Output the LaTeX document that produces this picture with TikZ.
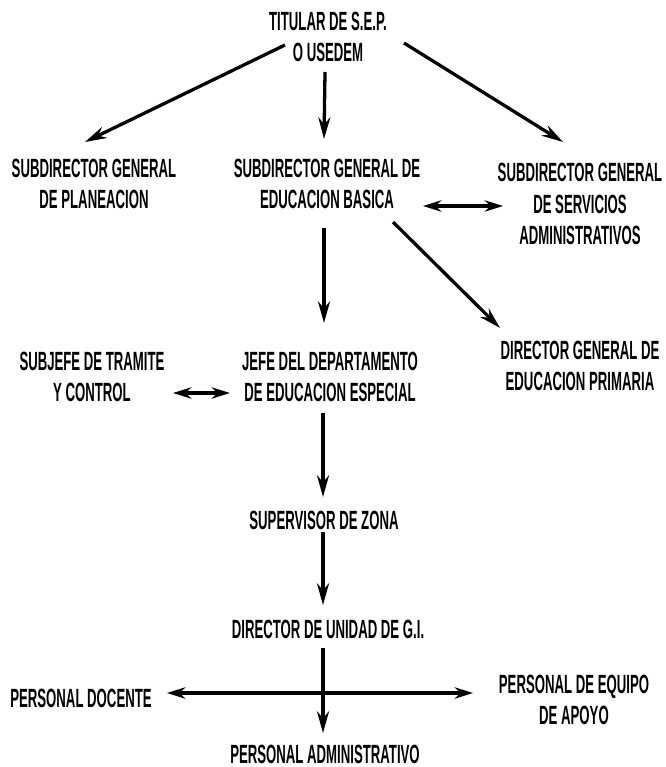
\documentclass[tikz,border=0pt]{standalone}
\usepackage{fontspec}
\newfontfamily\orgfont{Liberation Sans}[FakeStretch=0.5]
\usetikzlibrary{positioning,arrows.meta,calc}

\begin{document}
\begin{tikzpicture}[
    x=0.03cm, y=-0.03cm,
    every node/.style={align=center, inner sep=2pt, font=\orgfont\bfseries\fontsize{22.5}{27}\selectfont},
    arrow/.style={-{Stealth[length=6.5mm, width=3.6mm]}, line width=2.8pt},
    twoway/.style={{Stealth[length=5.5mm, width=3.4mm]}-{Stealth[length=5.5mm, width=3.4mm]}, line width=3pt}
]
\useasboundingbox (0,0) rectangle (665,767);

% top of the chart
\node (titular) at (328,37) {TITULAR DE S.E.P.\\O USEDEM};
\node (plan) at (94,184) {SUBDIRECTOR GENERAL\\DE PLANEACION};
\node (basica) at (327,184) {SUBDIRECTOR GENERAL DE\\EDUCACION BASICA};
\node (servicios) at (580,204) {SUBDIRECTOR GENERAL\\DE SERVICIOS\\ADMINISTRATIVOS};

% middle level
\node (subjefe) at (92,377) {SUBJEFE DE TRAMITE\\Y CONTROL};
\node (jefe) at (330,377) {JEFE DEL DEPARTAMENTO\\DE EDUCACION ESPECIAL};
\node (primaria) at (580,366) {DIRECTOR GENERAL DE\\EDUCACION PRIMARIA};
\node (supervisor) at (324,520) {SUPERVISOR DE ZONA};

% unit and its staff
\node (unidad) at (328,629) {DIRECTOR DE UNIDAD DE G.I.};
\node (docente) at (81,698) {PERSONAL DOCENTE};
\node (equipo) at (574,700) {PERSONAL DE EQUIPO\\DE APOYO};
\node (admin) at (325,754) {PERSONAL ADMINISTRATIVO};

\draw[arrow] ($(titular)+(-43,8)$) -- ($(plan)+(-9,-42)$);
\draw[arrow] ($(titular)+(-3,35)$) -- ($(basica)+(-3,-45)$);
\draw[arrow] ($(titular)+(76,6)$) -- ($(servicios)+(-17,-62)$);
\draw[twoway] ($(basica)+(96,22)$) -- ($(servicios)+(-77,2)$);
\draw[arrow] ($(basica)+(-3,44)$) -- ($(jefe)+(-6,-54)$);
\draw[arrow] ($(basica)+(66,38)$) -- ($(primaria)+(-80,-38)$);
\draw[twoway] ($(subjefe)+(81,16)$) -- ($(jefe)+(-100,16)$);
\draw[arrow] ($(jefe)+(-7,36)$) -- ($(supervisor)+(-1,-23)$);
\draw[arrow] ($(supervisor)+(-1,12)$) -- ($(unidad)+(-5,-24)$);
\draw[arrow] ($(unidad)+(-5,19)$) -- ($(admin)+(-2,-21)$);
\draw[twoway] ($(docente)+(86,-5)$) -- ($(equipo)+(-101,-7)$);

\end{tikzpicture}
\end{document}
